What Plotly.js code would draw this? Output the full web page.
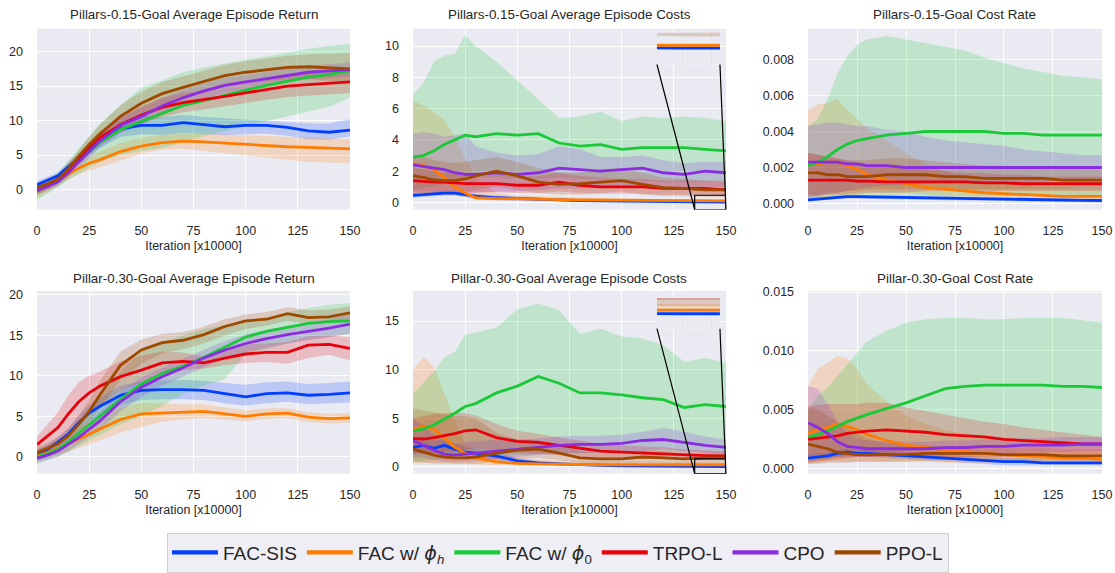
<!DOCTYPE html>
<html><head><meta charset="utf-8">
<script src="https://cdn.plot.ly/plotly-3.0.1.min.js"></script>
<style>html,body{margin:0;padding:0;background:#fff}#chart{width:1115px;height:573px}</style>
</head><body><div id="chart"></div>
<script>
// ---------- shared axes / labels ----------
const iterations = [0,5,10,15,20,25,30,40,50,60,70,80,90,100,110,120,130,140,150];
const PHI = '<span style="font-family:DejaVu Sans"><i>ϕ</i></span>';
const seriesNames = ['FAC-SIS','FAC w/ '+PHI+'<sub><i>h</i></sub>','FAC w/ '+PHI+'<sub>0</sub>','TRPO-L','CPO','PPO-L'];
const panelTitles = ['Pillars-0.15-Goal Average Episode Return','Pillars-0.15-Goal Average Episode Costs','Pillars-0.15-Goal Cost Rate',
                     'Pillar-0.30-Goal Average Episode Return','Pillar-0.30-Goal Average Episode Costs','Pillar-0.30-Goal Cost Rate'];
const xTitle = 'Iteration [x10000]';
const xTicks = [0,25,50,75,100,125,150];
const yTicksRet15 = [0,5,10,15,20];
const yTicksCost15 = [0,2,4,6,8,10];
const yTicksRate15 = [0,0.002,0.004,0.006,0.008];
const yTicksRet30 = [0,5,10,15,20];
const yTicksCost30 = [0,5,10,15];
const yTicksRate30 = [0,0.005,0.010,0.015];

// ---------- Pillars-0.15 Average Episode Return ----------
const ret15_sis    = [0.7,1.3,2.0,3.3,4.5,5.7,6.9,8.8,9.3,9.3,9.7,9.4,9.1,9.3,9.3,9.0,8.5,8.3,8.6];
const ret15_sis_lo = [0.2,0.8,1.5,2.7,3.8,4.9,6.0,7.6,8.0,7.9,8.2,8.0,7.9,8.0,8.1,7.8,7.3,7.2,7.7];
const ret15_sis_hi = [1.2,1.8,2.5,3.9,5.2,6.5,7.8,9.9,10.7,10.5,10.8,10.5,10.3,10.1,10.0,9.8,9.6,9.6,10.2];
const ret15_phih    = [-0.3,0.5,1.2,2.2,3.1,3.8,4.3,5.5,6.3,6.8,7.0,6.9,6.7,6.6,6.4,6.2,6.1,6.0,5.9];
const ret15_phih_lo = [-1.3,-0.3,0.5,1.4,2.2,2.8,3.2,4.2,5.2,5.8,5.9,5.6,5.2,5.0,4.6,4.3,4.0,3.9,3.8];
const ret15_phih_hi = [0.6,1.2,1.9,3.0,4.0,4.8,5.5,6.7,7.5,7.9,8.1,8.1,8.0,7.9,7.8,7.7,7.5,7.4,7.3];
const ret15_phi0    = [-0.3,0.5,1.3,2.7,4.2,5.5,6.8,8.7,9.9,11.1,12.2,12.9,13.7,14.4,15.1,15.7,16.3,16.7,17.2];
const ret15_phi0_lo = [-1.5,-0.6,0.3,1.4,2.3,3.2,4.0,5.0,5.6,6.0,6.8,7.8,8.6,9.3,9.9,10.6,11.3,12.0,13.3];
const ret15_phi0_hi = [0.8,1.5,2.4,4.2,6.0,7.8,9.5,12.2,14.8,15.8,17.0,17.7,18.3,18.8,19.3,19.9,20.4,20.8,21.1];
const ret15_trpo    = [-0.2,0.6,1.4,2.9,4.5,6.1,7.5,9.4,10.8,11.9,12.6,13.0,13.5,14.0,14.5,15.0,15.2,15.4,15.6];
const ret15_trpo_lo = [-0.8,0.0,0.8,2.2,3.7,5.2,6.5,8.3,9.5,10.5,11.2,11.6,12.0,12.5,13.0,13.4,13.6,13.8,14.0];
const ret15_trpo_hi = [0.4,1.2,2.0,3.6,5.3,7.0,8.5,10.5,12.1,13.3,14.0,14.4,15.0,15.5,16.0,16.5,16.8,17.0,17.2];
const ret15_cpo    = [-0.1,0.4,1.1,2.4,4.0,5.5,7.0,9.3,10.6,12.1,13.3,14.3,15.1,15.6,16.1,16.6,17.0,17.2,17.4];
const ret15_cpo_lo = [-0.7,-0.2,0.5,1.7,3.2,4.6,6.0,8.2,9.4,10.9,12.1,13.2,14.0,14.6,15.1,15.6,16.0,16.2,16.4];
const ret15_cpo_hi = [0.5,1.0,1.7,3.1,4.8,6.4,8.0,10.4,11.8,13.3,14.5,15.4,16.2,16.6,17.1,17.6,18.0,18.2,18.4];
const ret15_ppo    = [0.3,0.8,1.5,3.0,4.8,6.5,8.0,10.6,12.5,13.9,14.8,15.6,16.5,17.0,17.3,17.7,17.8,17.7,17.5];
const ret15_ppo_lo = [-0.3,0.2,0.8,2.2,3.9,5.4,6.7,9.0,10.8,12.2,13.2,14.0,14.9,15.4,15.7,16.0,16.0,15.8,15.5];
const ret15_ppo_hi = [0.9,1.4,2.2,3.8,5.7,7.6,9.3,12.2,14.2,15.6,16.4,17.2,18.1,18.6,19.0,19.4,19.6,19.7,19.8];

// ---------- Pillars-0.15 Average Episode Costs ----------
const cost15_sis    = [0.45,0.5,0.55,0.6,0.6,0.5,0.4,0.3,0.25,0.2,0.15,0.12,0.1,0.08,0.06,0.05,0.03,0.02,0.02];
const cost15_sis_lo = [0.3,0.35,0.4,0.45,0.45,0.35,0.25,0.15,0.1,0.08,0.05,0.04,0.03,0.02,0.01,0.0,0.0,-0.02,-0.02];
const cost15_sis_hi = [0.6,0.65,0.7,0.75,0.75,0.65,0.55,0.45,0.4,0.32,0.25,0.2,0.17,0.14,0.11,0.1,0.07,0.06,0.06];
const cost15_phih    = [2.5,2.35,2.1,1.6,1.0,0.6,0.3,0.25,0.25,0.2,0.18,0.16,0.15,0.13,0.12,0.11,0.1,0.1,0.1];
const cost15_phih_lo = [0.5,0.5,0.5,0.5,0.45,0.35,0.2,0.12,0.12,0.1,0.09,0.08,0.07,0.06,0.06,0.05,0.05,0.05,0.05];
const cost15_phih_hi = [6.5,6.2,5.8,5.3,4.2,2.8,1.6,0.6,0.45,0.4,0.35,0.3,0.28,0.25,0.22,0.2,0.18,0.17,0.16];
const cost15_phi0    = [2.9,3.0,3.3,3.7,4.0,4.3,4.2,4.4,4.3,4.4,3.8,3.6,3.7,3.4,3.5,3.5,3.5,3.4,3.3];
const cost15_phi0_lo = [0.8,0.9,1.0,1.2,1.4,1.5,1.6,1.6,1.5,1.5,1.6,1.5,1.5,1.4,1.4,1.3,1.3,1.3,1.3];
const cost15_phi0_hi = [6.9,7.6,9.0,9.4,9.5,10.7,10.0,9.0,7.8,6.6,5.4,5.5,5.8,5.2,5.5,5.4,5.5,5.4,5.2];
const cost15_trpo    = [1.4,1.35,1.3,1.3,1.25,1.2,1.2,1.2,1.1,1.1,1.3,1.1,1.0,1.0,1.0,0.9,0.9,0.9,0.8];
const cost15_trpo_lo = [0.7,0.7,0.7,0.7,0.7,0.65,0.65,0.65,0.6,0.6,0.7,0.6,0.55,0.55,0.55,0.5,0.5,0.5,0.45];
const cost15_trpo_hi = [2.2,2.1,2.0,1.9,1.9,1.8,1.8,1.8,1.7,1.7,1.9,1.7,1.6,1.5,1.5,1.4,1.4,1.35,1.3];
const cost15_cpo    = [2.4,2.3,2.2,2.1,1.9,1.8,1.8,1.9,1.8,1.9,2.2,2.1,2.0,2.1,2.2,1.9,1.8,2.0,1.9];
const cost15_cpo_lo = [0.6,0.6,0.6,0.6,0.6,0.6,0.6,0.7,0.7,0.8,0.9,0.9,0.9,1.0,1.0,0.9,0.9,1.0,1.0];
const cost15_cpo_hi = [4.4,4.5,4.4,4.2,4.3,4.4,3.6,3.2,3.0,3.1,3.6,3.4,2.9,2.9,3.0,2.7,2.5,2.6,2.6];
const cost15_ppo    = [1.7,1.6,1.45,1.4,1.4,1.5,1.7,2.0,1.7,1.3,1.15,1.2,1.3,1.4,1.15,0.95,0.9,0.8,0.8];
const cost15_ppo_lo = [0.5,0.5,0.5,0.5,0.5,0.6,0.8,1.0,0.8,0.6,0.5,0.5,0.6,0.7,0.5,0.4,0.4,0.35,0.35];
const cost15_ppo_hi = [3.0,2.9,2.7,2.6,2.5,2.6,2.7,2.9,2.6,2.2,1.9,1.9,2.1,2.2,1.9,1.6,1.5,1.4,1.4];

// ---------- Pillars-0.15 Cost Rate ----------
const rate15_sis    = [0.00020,0.00025,0.00030,0.00035,0.00038,0.00038,0.00037,0.00035,0.00033,0.00030,0.00028,0.00026,0.00024,0.00022,0.00021,0.00020,0.00019,0.00018,0.00017];
const rate15_sis_lo = [0.00010,0.00015,0.00020,0.00025,0.00028,0.00028,0.00027,0.00025,0.00023,0.00020,0.00018,0.00016,0.00014,0.00012,0.00011,0.00010,0.00009,0.00008,0.00007];
const rate15_sis_hi = [0.00030,0.00035,0.00040,0.00045,0.00048,0.00048,0.00047,0.00045,0.00043,0.00040,0.00038,0.00036,0.00034,0.00032,0.00031,0.00030,0.00029,0.00028,0.00027];
const rate15_phih    = [0.0022,0.0022,0.0023,0.0023,0.0021,0.0019,0.0016,0.0013,0.0011,0.0009,0.0008,0.0007,0.0006,0.00055,0.0005,0.00045,0.0004,0.0004,0.0004];
const rate15_phih_lo = [0.0001,0.0002,0.0003,0.0004,0.0005,0.0006,0.0006,0.0006,0.0006,0.0005,0.0004,0.0004,0.0003,0.0003,0.0003,0.00025,0.0002,0.0002,0.0002];
const rate15_phih_hi = [0.0052,0.0055,0.0056,0.0058,0.0052,0.0047,0.0042,0.0035,0.0028,0.0022,0.0018,0.0015,0.0013,0.0011,0.0010,0.0009,0.0009,0.0008,0.0008];
const rate15_phi0    = [0.0021,0.0023,0.0026,0.0030,0.0033,0.0035,0.0036,0.0038,0.0039,0.0040,0.0040,0.0040,0.0040,0.0039,0.0039,0.0038,0.0038,0.0038,0.0038];
const rate15_phi0_lo = [0.0003,0.0003,0.0003,0.0004,0.0004,0.0004,0.0004,0.0004,0.0004,0.0004,0.0004,0.0004,0.0004,0.0004,0.0004,0.0004,0.0004,0.0004,0.0004];
const rate15_phi0_hi = [0.0043,0.0047,0.0058,0.0072,0.0082,0.0088,0.0091,0.0093,0.0091,0.0089,0.0087,0.0085,0.0081,0.0078,0.0075,0.0073,0.0071,0.0070,0.0069];
const rate15_trpo    = [0.0013,0.0013,0.0013,0.0013,0.0013,0.00125,0.00125,0.0012,0.0012,0.0012,0.0012,0.0012,0.00115,0.00115,0.0011,0.0011,0.0011,0.0011,0.0011];
const rate15_trpo_lo = [0.0004,0.0004,0.0005,0.0005,0.0005,0.0005,0.0006,0.0006,0.0006,0.0007,0.0007,0.0007,0.0007,0.0007,0.0007,0.0007,0.0007,0.0007,0.0007];
const rate15_trpo_hi = [0.0028,0.0027,0.0026,0.0025,0.0024,0.0023,0.0022,0.0021,0.0020,0.0019,0.0018,0.0017,0.0017,0.0016,0.0016,0.0015,0.0015,0.0015,0.0015];
const rate15_cpo    = [0.0023,0.0023,0.0023,0.0023,0.0022,0.0022,0.0021,0.0021,0.0020,0.0020,0.0020,0.0020,0.0020,0.0020,0.0020,0.0020,0.0020,0.0020,0.0020];
const rate15_cpo_lo = [0.0003,0.0004,0.0005,0.0006,0.0007,0.0008,0.0009,0.0010,0.0010,0.0011,0.0011,0.0012,0.0012,0.0012,0.0012,0.0012,0.0013,0.0013,0.0013];
const rate15_cpo_hi = [0.0043,0.0044,0.0045,0.0045,0.0044,0.0043,0.0043,0.0041,0.0040,0.0037,0.0035,0.0034,0.0033,0.0032,0.0030,0.0029,0.0028,0.0027,0.0027];
const rate15_ppo    = [0.0017,0.0017,0.0016,0.0016,0.0015,0.0015,0.0015,0.0016,0.0016,0.0016,0.0015,0.0015,0.0014,0.0014,0.0014,0.0014,0.0013,0.0013,0.0013];
const rate15_ppo_lo = [0.0005,0.0005,0.0006,0.0006,0.0007,0.0007,0.0008,0.0008,0.0008,0.0008,0.0008,0.0008,0.0008,0.0008,0.0008,0.0008,0.0008,0.0008,0.0008];
const rate15_ppo_hi = [0.0028,0.0027,0.0026,0.0025,0.0024,0.0024,0.0024,0.0025,0.0025,0.0024,0.0023,0.0022,0.0021,0.0021,0.0020,0.0020,0.0020,0.0019,0.0019];

// ---------- Pillar-0.30 Average Episode Return ----------
const ret30_sis    = [0.3,0.9,1.8,2.8,4.2,5.4,6.2,7.6,8.2,8.3,8.3,8.2,7.8,7.4,7.8,7.9,7.6,7.7,7.9];
const ret30_sis_lo = [-0.3,0.3,1.2,2.1,3.3,4.4,5.1,6.4,7.0,7.1,7.1,7.0,6.6,6.3,6.6,6.8,6.5,6.6,6.7];
const ret30_sis_hi = [0.9,1.5,2.4,3.5,5.1,6.4,7.3,8.8,9.3,9.4,9.5,9.4,9.1,8.9,9.2,9.3,9.0,9.1,9.3];
const ret30_phih    = [0.1,0.5,1.0,1.6,2.3,2.9,3.5,4.6,5.3,5.4,5.5,5.6,5.3,5.0,5.3,5.4,4.9,4.7,4.8];
const ret30_phih_lo = [-0.6,-0.2,0.2,0.6,1.0,1.5,2.0,3.0,3.7,4.3,4.6,4.8,4.6,4.4,4.7,4.8,4.3,4.1,4.2];
const ret30_phih_hi = [0.8,1.3,1.9,2.7,3.6,4.3,5.0,6.1,6.6,6.6,6.5,6.5,6.1,5.7,6.0,6.0,5.5,5.3,5.4];
const ret30_phi0    = [0.0,0.4,0.9,1.8,2.9,4.0,5.0,7.1,9.0,10.3,11.2,12.3,13.6,14.8,15.5,16.0,16.5,16.7,16.8];
const ret30_phi0_lo = [-0.9,-0.4,0.0,0.6,1.3,2.0,2.7,4.0,5.0,6.3,7.8,8.8,9.6,12.7,13.3,14.0,14.5,14.8,15.1];
const ret30_phi0_hi = [0.9,1.3,1.9,3.0,4.5,6.0,7.5,10.5,13.0,14.2,15.0,15.8,16.3,16.7,17.2,17.8,18.4,18.8,19.0];
const ret30_trpo    = [1.5,2.5,3.6,5.3,6.8,7.9,8.7,9.9,10.7,11.6,11.8,11.6,12.2,12.7,12.9,12.9,13.8,13.9,13.4];
const ret30_trpo_lo = [0.5,1.0,1.6,2.8,4.0,5.2,6.2,8.1,9.2,10.2,10.7,10.9,11.3,11.6,11.7,11.5,12.2,12.6,11.9];
const ret30_trpo_hi = [2.5,4.0,5.5,7.6,9.2,10.0,10.5,11.8,12.5,13.0,12.9,12.4,13.1,13.9,14.0,14.2,14.9,15.0,14.8];
const ret30_cpo    = [-0.2,0.2,0.7,1.5,2.4,3.4,4.4,6.8,8.6,9.9,11.0,12.2,13.2,14.0,14.6,15.1,15.5,15.9,16.4];
const ret30_cpo_lo = [-0.7,-0.4,0.0,0.7,1.5,2.4,3.3,5.6,7.4,8.8,9.9,11.1,12.1,12.9,13.5,14.0,14.4,14.8,15.2];
const ret30_cpo_hi = [0.3,0.8,1.4,2.3,3.3,4.4,5.5,8.0,9.8,11.0,12.1,13.3,14.3,15.1,15.7,16.2,16.6,17.0,17.6];
const ret30_ppo    = [0.5,1.0,1.6,2.6,4.0,5.6,7.6,11.3,13.2,14.1,14.4,15.1,16.1,16.8,17.0,17.7,17.2,17.3,17.8];
const ret30_ppo_lo = [-0.2,0.3,0.8,1.7,2.9,4.2,5.9,9.5,11.5,12.8,13.3,14.0,15.0,15.8,16.2,16.8,16.4,16.6,17.0];
const ret30_ppo_hi = [1.2,1.7,2.4,3.5,5.1,7.0,9.3,13.0,14.5,15.2,15.4,16.1,17.0,17.6,17.9,18.5,18.1,18.2,18.6];

// ---------- Pillar-0.30 Average Episode Costs ----------
const cost30_sis    = [2.0,2.2,1.9,2.2,1.8,1.5,1.4,1.1,0.6,0.4,0.3,0.2,0.15,0.1,0.08,0.05,0.03,0.02,0.02];
const cost30_sis_lo = [1.3,1.5,1.3,1.5,1.2,1.0,0.9,0.7,0.3,0.2,0.15,0.1,0.05,0.03,0.02,0.0,0.0,-0.02,-0.02];
const cost30_sis_hi = [2.7,2.9,2.6,2.9,2.4,2.0,1.9,1.5,0.9,0.6,0.45,0.3,0.25,0.18,0.14,0.1,0.07,0.05,0.05];
const cost30_phih    = [3.8,4.2,3.9,2.9,2.0,1.4,0.9,0.5,0.35,0.3,0.25,0.22,0.2,0.2,0.2,0.2,0.2,0.2,0.2];
const cost30_phih_lo = [0.3,0.4,0.4,0.4,0.3,0.3,0.2,0.15,0.1,0.1,0.1,0.1,0.05,0.05,0.05,0.05,0.05,0.05,0.05];
const cost30_phih_hi = [10.0,11.3,10.3,7.6,4.8,2.4,1.5,1.1,0.9,0.8,0.7,0.6,0.6,0.55,0.55,0.5,0.5,0.5,0.5];
const cost30_phi0    = [3.7,3.9,4.3,4.9,5.5,6.2,6.5,7.6,8.3,9.3,8.6,7.6,7.6,7.4,7.1,6.9,6.1,6.4,6.2];
const cost30_phi0_lo = [0.5,0.6,0.7,0.9,1.0,1.0,1.1,1.2,1.2,1.3,1.4,1.4,1.4,1.5,1.5,1.5,1.5,1.5,1.5];
const cost30_phi0_hi = [7.5,8.6,9.8,11.3,11.8,13.6,13.8,14.3,16.2,16.8,16.1,13.7,14.2,13.4,13.2,12.5,10.8,11.2,10.7];
const cost30_trpo    = [2.9,2.85,3.0,3.2,3.4,3.7,3.8,3.0,2.6,2.5,2.2,1.9,1.6,1.5,1.4,1.3,1.2,1.15,1.1];
const cost30_trpo_lo = [1.3,1.3,1.4,1.5,1.6,1.8,1.9,1.6,1.4,1.3,1.2,1.0,0.9,0.9,0.8,0.8,0.7,0.7,0.7];
const cost30_trpo_hi = [5.0,5.2,5.4,5.5,5.6,5.5,5.3,4.4,3.7,3.4,3.0,2.7,2.4,2.2,2.1,2.0,1.8,1.7,1.6];
const cost30_cpo    = [2.7,2.2,1.7,1.3,1.2,1.3,1.4,1.6,1.8,2.0,2.2,2.3,2.3,2.4,2.7,2.8,2.5,2.2,2.0];
const cost30_cpo_lo = [1.0,0.9,0.7,0.5,0.5,0.5,0.6,0.8,1.0,1.2,1.3,1.4,1.4,1.5,1.6,1.8,1.6,1.4,1.3];
const cost30_cpo_hi = [5.0,4.2,3.3,2.6,2.4,2.5,2.6,2.8,2.8,2.9,3.1,3.2,3.2,3.3,3.6,4.0,3.6,3.1,2.8];
const cost30_ppo    = [1.8,1.5,1.2,1.0,0.9,0.9,1.0,1.4,1.7,1.8,1.4,0.9,0.8,0.8,1.0,0.9,0.8,0.9,0.9];
const cost30_ppo_lo = [0.5,0.4,0.3,0.3,0.3,0.3,0.3,0.5,0.8,0.9,0.7,0.4,0.3,0.3,0.4,0.4,0.3,0.4,0.4];
const cost30_ppo_hi = [6.0,5.8,5.6,5.4,5.2,5.2,5.0,3.5,2.8,2.7,2.3,1.6,1.4,1.4,1.6,1.6,1.4,1.5,1.5];

// ---------- Pillar-0.30 Cost Rate ----------
const rate30_sis    = [0.0009,0.0010,0.0011,0.0013,0.0014,0.0013,0.0013,0.0012,0.0011,0.0010,0.0009,0.0008,0.0007,0.0006,0.0006,0.0005,0.0005,0.0005,0.0005];
const rate30_sis_lo = [0.0006,0.0007,0.0008,0.0010,0.0011,0.0010,0.0010,0.0009,0.0008,0.0007,0.0006,0.0005,0.0004,0.0003,0.0003,0.0003,0.0003,0.0003,0.0003];
const rate30_sis_hi = [0.0012,0.0013,0.0014,0.0016,0.0017,0.0016,0.0016,0.0015,0.0014,0.0013,0.0012,0.0011,0.0010,0.0009,0.0009,0.0008,0.0008,0.0008,0.0007];
const rate30_phih    = [0.0030,0.0033,0.0035,0.0038,0.0036,0.0033,0.0029,0.0024,0.0020,0.0018,0.0016,0.0015,0.0013,0.0012,0.0011,0.0010,0.0009,0.0009,0.0008];
const rate30_phih_lo = [0.0004,0.0005,0.0006,0.0006,0.0006,0.0006,0.0006,0.0006,0.0006,0.0006,0.0005,0.0005,0.0005,0.0005,0.0005,0.0004,0.0004,0.0004,0.0004];
const rate30_phih_hi = [0.0070,0.0085,0.0090,0.0096,0.0094,0.0085,0.0072,0.0057,0.0045,0.0038,0.0033,0.0030,0.0028,0.0026,0.0025,0.0024,0.0023,0.0022,0.0021];
const rate30_phi0    = [0.0027,0.0029,0.0032,0.0036,0.0040,0.0043,0.0046,0.0051,0.0056,0.0062,0.0068,0.0070,0.0071,0.0071,0.0071,0.0071,0.0070,0.0070,0.0069];
const rate30_phi0_lo = [0.0007,0.0008,0.0009,0.0010,0.0011,0.0012,0.0013,0.0014,0.0015,0.0016,0.0017,0.0018,0.0018,0.0018,0.0018,0.0018,0.0018,0.0018,0.0018];
const rate30_phi0_hi = [0.0050,0.0062,0.0069,0.0079,0.0089,0.0099,0.0108,0.0117,0.0124,0.0127,0.0128,0.0128,0.0127,0.0127,0.0128,0.0128,0.0128,0.0126,0.0124];
const rate30_trpo    = [0.0025,0.0026,0.0027,0.0028,0.0030,0.0031,0.0032,0.0033,0.0032,0.0031,0.0029,0.0028,0.0027,0.0025,0.0024,0.0023,0.0022,0.0021,0.0021];
const rate30_trpo_lo = [0.0005,0.0006,0.0007,0.0008,0.0009,0.0010,0.0010,0.0010,0.0010,0.0010,0.0010,0.0010,0.0010,0.0010,0.0010,0.0010,0.0010,0.0010,0.0010];
const rate30_trpo_hi = [0.0053,0.0054,0.0055,0.0055,0.0055,0.0055,0.0056,0.0056,0.0052,0.0049,0.0046,0.0043,0.0040,0.0038,0.0035,0.0033,0.0031,0.0029,0.0027];
const rate30_cpo    = [0.0039,0.0035,0.0030,0.0023,0.0019,0.0018,0.0017,0.0017,0.0017,0.0017,0.0018,0.0018,0.0019,0.0019,0.0020,0.0020,0.0020,0.0021,0.0021];
const rate30_cpo_lo = [0.0010,0.0010,0.0010,0.0010,0.0010,0.0010,0.0010,0.0011,0.0011,0.0011,0.0012,0.0012,0.0013,0.0013,0.0014,0.0014,0.0014,0.0015,0.0015];
const rate30_cpo_hi = [0.0070,0.0068,0.0055,0.0040,0.0030,0.0026,0.0024,0.0023,0.0023,0.0023,0.0024,0.0024,0.0025,0.0025,0.0026,0.0026,0.0027,0.0027,0.0027];
const rate30_ppo    = [0.0021,0.0019,0.0017,0.0014,0.0013,0.0012,0.0012,0.0012,0.0012,0.0013,0.0013,0.0013,0.0013,0.0012,0.0012,0.0012,0.0011,0.0011,0.0011];
const rate30_ppo_lo = [0.0004,0.0004,0.0005,0.0005,0.0005,0.0006,0.0006,0.0006,0.0006,0.0007,0.0007,0.0007,0.0007,0.0007,0.0007,0.0007,0.0007,0.0007,0.0007];
const rate30_ppo_hi = [0.0052,0.0050,0.0045,0.0040,0.0035,0.0030,0.0026,0.0022,0.0020,0.0020,0.0019,0.0019,0.0019,0.0018,0.0018,0.0018,0.0017,0.0017,0.0017];

// ---------- styling ----------
const colors = ['#023eff','#ff7c00','#1ac938','#e8000b','#8b2be2','#9f4800'];
const FONT = 'Liberation Sans, Arial, Helvetica, sans-serif';
const TXT = '#262626';
const colDom = [[0.0332,0.3139],[0.3704,0.6511],[0.7247,0.9883]];
const rowDom = [[0.6318,0.9494],[0.1675,0.4887]];

const panels = [
  {title:panelTitles[0], yr:[-2.9,23.3], yt:yTicksRet15, fmt:'',
   s:[[ret15_sis,ret15_sis_lo,ret15_sis_hi],[ret15_phih,ret15_phih_lo,ret15_phih_hi],[ret15_phi0,ret15_phi0_lo,ret15_phi0_hi],[ret15_trpo,ret15_trpo_lo,ret15_trpo_hi],[ret15_cpo,ret15_cpo_lo,ret15_cpo_hi],[ret15_ppo,ret15_ppo_lo,ret15_ppo_hi]]},
  {title:panelTitles[1], yr:[-0.45,11.1], yt:yTicksCost15, fmt:'',
   s:[[cost15_sis,cost15_sis_lo,cost15_sis_hi],[cost15_phih,cost15_phih_lo,cost15_phih_hi],[cost15_phi0,cost15_phi0_lo,cost15_phi0_hi],[cost15_trpo,cost15_trpo_lo,cost15_trpo_hi],[cost15_cpo,cost15_cpo_lo,cost15_cpo_hi],[cost15_ppo,cost15_ppo_lo,cost15_ppo_hi]],
   inset:{x:[135,150], y:[-0.45,0.46], ydom:[0.8866,0.9424]}},
  {title:panelTitles[2], yr:[-0.00033,0.0097], yt:yTicksRate15, fmt:'.3f',
   s:[[rate15_sis,rate15_sis_lo,rate15_sis_hi],[rate15_phih,rate15_phih_lo,rate15_phih_hi],[rate15_phi0,rate15_phi0_lo,rate15_phi0_hi],[rate15_trpo,rate15_trpo_lo,rate15_trpo_hi],[rate15_cpo,rate15_cpo_lo,rate15_cpo_hi],[rate15_ppo,rate15_ppo_lo,rate15_ppo_hi]]},
  {title:panelTitles[3], yr:[-2.1,20.5], yt:yTicksRet30, fmt:'',
   s:[[ret30_sis,ret30_sis_lo,ret30_sis_hi],[ret30_phih,ret30_phih_lo,ret30_phih_hi],[ret30_phi0,ret30_phi0_lo,ret30_phi0_hi],[ret30_trpo,ret30_trpo_lo,ret30_trpo_hi],[ret30_cpo,ret30_cpo_lo,ret30_cpo_hi],[ret30_ppo,ret30_ppo_lo,ret30_ppo_hi]]},
  {title:panelTitles[4], yr:[-0.72,18.1], yt:yTicksCost30, fmt:'',
   s:[[cost30_sis,cost30_sis_lo,cost30_sis_hi],[cost30_phih,cost30_phih_lo,cost30_phih_hi],[cost30_phi0,cost30_phi0_lo,cost30_phi0_hi],[cost30_trpo,cost30_trpo_lo,cost30_trpo_hi],[cost30_cpo,cost30_cpo_lo,cost30_cpo_hi],[cost30_ppo,cost30_ppo_lo,cost30_ppo_hi]],
   inset:{x:[135,150], y:[-0.72,0.8], ydom:[0.4223,0.4764]}},
  {title:panelTitles[5], yr:[-0.00042,0.0151], yt:yTicksRate30, fmt:'.3f',
   s:[[rate30_sis,rate30_sis_lo,rate30_sis_hi],[rate30_phih,rate30_phih_lo,rate30_phih_hi],[rate30_phi0,rate30_phi0_lo,rate30_phi0_hi],[rate30_trpo,rate30_trpo_lo,rate30_trpo_hi],[rate30_cpo,rate30_cpo_lo,rate30_cpo_hi],[rate30_ppo,rate30_ppo_lo,rate30_ppo_hi]]}
];
const insetXDom = [0.5892,0.6457];
const insetGridX = [141,148];

function rgba(hex,a){const n=parseInt(hex.slice(1),16);return `rgba(${(n>>16)&255},${(n>>8)&255},${n&255},${a})`;}
const xsBand = iterations.concat(iterations.slice().reverse());

const traces = [];
function addPanelTraces(p, xa, ya){
  p.s.forEach((d,k)=>{
    traces.push({type:'scatter',mode:'lines',x:xsBand,y:d[2].concat(d[1].slice().reverse()),fill:'toself',
      fillcolor:rgba(colors[k],0.2),line:{width:0,color:rgba(colors[k],0)},xaxis:xa,yaxis:ya,showlegend:false,hoverinfo:'skip'});
  });
  p.s.forEach((d,k)=>{
    traces.push({type:'scatter',mode:'lines',x:iterations,y:d[0],name:seriesNames[k],line:{color:colors[k],width:2.8},
      xaxis:xa,yaxis:ya,showlegend:false,legendgroup:'g'+k});
  });
}

const layout = {
  width:1115,height:573,margin:{l:0,r:0,t:0,b:0},
  paper_bgcolor:'#ffffff',plot_bgcolor:'#EAEAF2',
  font:{family:FONT,color:TXT,size:12.5},
  showlegend:true,
  legend:{orientation:'h',x:0.5004,xanchor:'center',y:0.064,yanchor:'top',bgcolor:'#EEEEF4',bordercolor:'#cfcfcf',borderwidth:1,
    itemwidth:46,font:{family:FONT,size:19,color:TXT}},
  annotations:[],shapes:[]
};

panels.forEach((p,i)=>{
  const n = i+1, suf = n===1?'':n;
  const col = i%3, row = Math.floor(i/3);
  layout['xaxis'+suf] = {domain:colDom[col],anchor:'y'+suf,range:[0,150],tickvals:xTicks,ticktext:xTicks.map(String),
    showgrid:true,gridcolor:'#ffffff',gridwidth:1,zeroline:false,showline:false,ticks:'',ticklabelstandoff:12,
    tickfont:{family:FONT,size:12.5,color:TXT},title:{text:xTitle,font:{family:FONT,size:12.5,color:TXT},standoff:4}};
  layout['yaxis'+suf] = {domain:rowDom[row],anchor:'x'+suf,range:p.yr,tickvals:p.yt,tickformat:p.fmt,
    showgrid:true,gridcolor:'#ffffff',gridwidth:1,zeroline:false,showline:false,ticks:'',ticklabelstandoff:13,
    tickfont:{family:FONT,size:12.5,color:TXT}};
  addPanelTraces(p,'x'+suf,'y'+suf);
  layout.annotations.push({text:p.title,xref:'paper',yref:'paper',x:(colDom[col][0]+colDom[col][1])/2,
    y:row===0?0.9738:0.5113,xanchor:'center',yanchor:'middle',showarrow:false,font:{family:FONT,size:13.4,color:TXT}});
});

// legend keys (thicker line samples, as in the reference legend)
seriesNames.forEach((nm,k)=>{
  traces.push({type:'scatter',mode:'lines',x:[null],y:[null],name:nm,line:{color:colors[k],width:4.2},
    xaxis:'x',yaxis:'y',showlegend:true,legendgroup:'g'+k,hoverinfo:'skip'});
});

// insets (zoomed views of the lower-right corner)
let insetN = 7;
panels.forEach((p,i)=>{
  if(!p.inset) return;
  const n = i+1, ins = insetN++;
  const xa = 'x'+ins, ya = 'y'+ins;
  layout['xaxis'+ins] = {domain:insetXDom,anchor:ya,range:p.inset.x,tickvals:insetGridX,showticklabels:false,
    showgrid:true,gridcolor:'#e3e3e3',zeroline:false,showline:false,ticks:''};
  layout['yaxis'+ins] = {domain:p.inset.ydom,anchor:xa,range:p.inset.y,showticklabels:false,showgrid:false,zeroline:false,showline:false,ticks:''};
  layout.shapes.push({type:'rect',xref:xa+' domain',yref:ya+' domain',x0:0,x1:1,y0:0,y1:1,fillcolor:'#ffffff',line:{width:0},layer:'below'});
  addPanelTraces(p,xa,ya);
  layout.shapes.push({type:'rect',xref:'x'+n,yref:'y'+n,x0:p.inset.x[0],x1:p.inset.x[1],y0:p.inset.y[0],y1:p.inset.y[1],
    line:{color:'#000000',width:1.2},fillcolor:'rgba(0,0,0,0)'});
  const col = i%3, row = Math.floor(i/3);
  const xd = colDom[col], yd = rowDom[row];
  const px = v => xd[0]+(v-0)/150*(xd[1]-xd[0]);
  const py = v => yd[0]+(v-p.yr[0])/(p.yr[1]-p.yr[0])*(yd[1]-yd[0]);
  layout.shapes.push({type:'line',xref:'paper',yref:'paper',x0:px(p.inset.x[0]),y0:py(p.inset.y[0]),x1:insetXDom[0],y1:p.inset.ydom[0],line:{color:'#000000',width:1.2}});
  layout.shapes.push({type:'line',xref:'paper',yref:'paper',x0:px(p.inset.x[1]),y0:py(p.inset.y[0]),x1:insetXDom[1],y1:p.inset.ydom[0],line:{color:'#000000',width:1.2}});
});

Plotly.newPlot('chart',traces,layout,{staticPlot:true,displayModeBar:false});
</script>
</body></html>
